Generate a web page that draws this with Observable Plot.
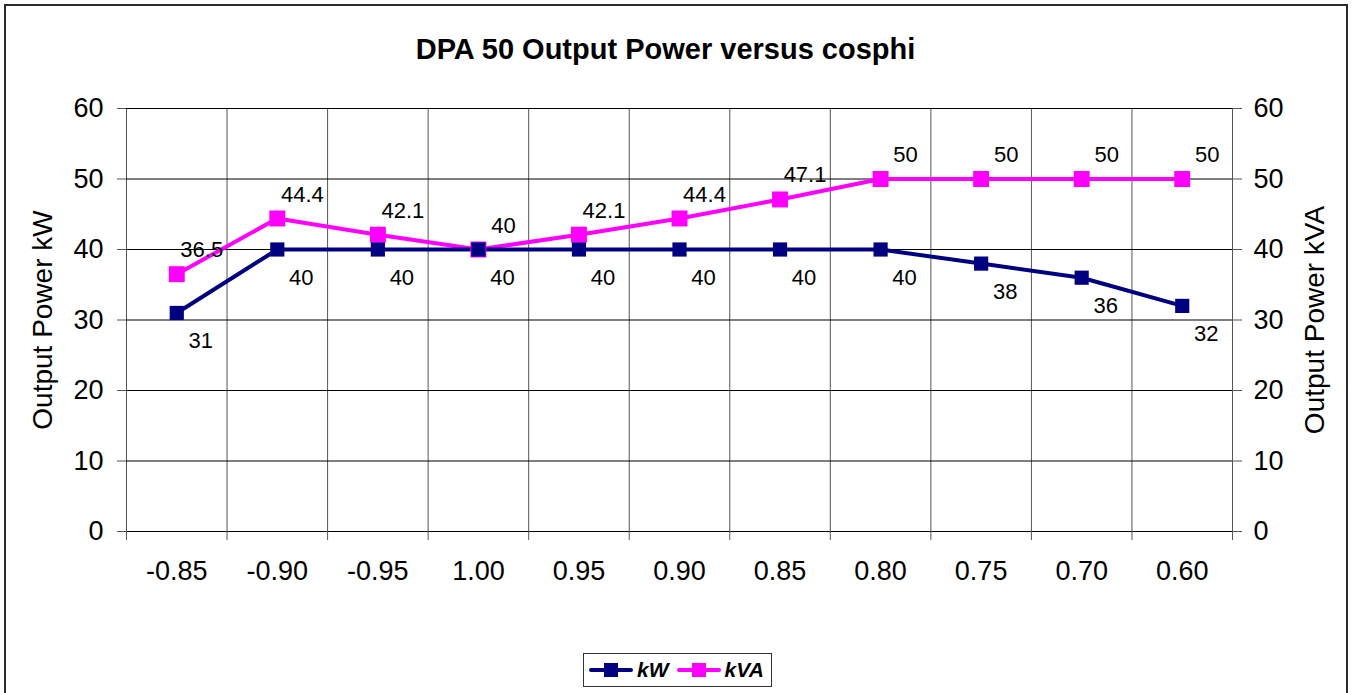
<!DOCTYPE html>
<html>
<head>
<meta charset="utf-8">
<script src="https://cdn.jsdelivr.net/npm/d3@7"></script>
<script src="https://cdn.jsdelivr.net/npm/@observablehq/plot@0.6"></script>
<style>
  html, body { margin: 0; padding: 0; background: #fff; overflow: hidden; }
  #wrap { position: relative; width: 1356px; height: 693px; overflow: hidden; font-family: "Liberation Sans", Arial, sans-serif; }
  #frame { position: absolute; left: 4px; top: 4px; width: 1344px; height: 720px; border: 2px solid #2a2a2a; box-sizing: border-box; pointer-events: none; }
  #chart { position: absolute; left: 0; top: 0; }
  #legend { position: absolute; left: 583px; top: 653px; width: 189px; height: 34px; border: 1.5px solid #333; box-sizing: border-box; background: #fff;
            display: flex; align-items: center; gap: 0; padding-left: 5px; }
  .item { display: flex; align-items: center; font-weight: bold; font-style: italic; font-size: 21px; color: #000; margin-right: 8px; }
  .item svg { margin-right: 4px; }
</style>
</head>
<body>
<div id="wrap">
  <div id="chart"></div>
  <div id="frame"></div>
  <div id="legend"></div>
</div>
<script>
const categories = ["-0.85", "-0.90", "-0.95", "1.00", "0.95", "0.90", "0.85", "0.80", "0.75", "0.70", "0.60"];
const kW = [31, 40, 40, 40, 40, 40, 40, 40, 38, 36, 32];
const kVA = [36.5, 44.4, 42.1, 40, 42.1, 44.4, 47.1, 50, 50, 50, 50];
const yTicks = [0, 10, 20, 30, 40, 50, 60];
const seriesNames = ["kW", "kVA"];
const seriesColors = ["#000080", "#FF00FF"];
const title = "DPA 50 Output Power versus cosphi";
const yLabelLeft = "Output Power kW";
const yLabelRight = "Output Power kVA";

const rows = categories.map((c, i) => ({pos: i + 0.5, cat: c, kW: kW[i], kVA: kVA[i]}));
const bounds = d3.range(0, categories.length + 1);
const font = "Liberation Sans, Arial, sans-serif";

const chart = Plot.plot({
  width: 1356,
  height: 693,
  marginLeft: 126,
  marginRight: 124,
  marginTop: 108,
  marginBottom: 162,
  style: {fontFamily: font, background: "transparent", overflow: "visible"},
  x: {domain: [0, categories.length]},
  y: {domain: [0, 60]},
  marks: [
    Plot.ruleX(bounds, {x: d => d, stroke: "#555", strokeWidth: 1, strokeOpacity: 1}),
    Plot.ruleY(yTicks, {y: d => d, stroke: "#000", strokeWidth: 1, strokeOpacity: 1}),
    Plot.axisX(bounds, {anchor: "bottom", tickSize: 9, tickFormat: () => "", stroke: "#555", strokeOpacity: 1, label: null}),
    Plot.axisY(yTicks, {anchor: "left", tickSize: 9, tickFormat: () => "", stroke: "#555", strokeOpacity: 1, label: null}),
    Plot.axisY(yTicks, {anchor: "right", tickSize: 9, tickFormat: () => "", stroke: "#555", strokeOpacity: 1, label: null}),
    Plot.text(rows, {x: "pos", text: "cat", frameAnchor: "bottom", lineAnchor: "middle", dy: 40, fontSize: 27, fill: "#000"}),
    Plot.text(yTicks, {y: d => d, text: d => String(d), frameAnchor: "left", dx: -23, textAnchor: "end", fontSize: 27, fill: "#000"}),
    Plot.text(yTicks, {y: d => d, text: d => String(d), frameAnchor: "right", dx: 21, textAnchor: "start", fontSize: 27, fill: "#000"}),
    Plot.line(rows, {x: "pos", y: "kVA", stroke: seriesColors[1], strokeWidth: 4}),
    Plot.line(rows, {x: "pos", y: "kW", stroke: seriesColors[0], strokeWidth: 4}),
    Plot.dot(rows, {x: "pos", y: "kVA", symbol: "square", r: 9, fill: seriesColors[1], stroke: "none"}),
    Plot.dot(rows, {x: "pos", y: "kW", symbol: "square", r: 8, fill: seriesColors[0], stroke: "none"}),
    Plot.text(rows, {x: "pos", y: "kVA", text: d => String(d.kVA), dx: 25, dy: -24, fontSize: 22, fill: "#000"}),
    Plot.text(rows, {x: "pos", y: "kW", text: d => String(d.kW), dx: 24, dy: 28, fontSize: 22, fill: "#000"}),
    Plot.text([title], {text: d => d, frameAnchor: "top", lineAnchor: "middle", dx: -14, dy: -59, fontSize: 29, fontWeight: "bold", fill: "#000"}),
    Plot.text([yLabelLeft], {text: d => d, frameAnchor: "left", textAnchor: "middle", lineAnchor: "middle", dx: -83, rotate: -90, fontSize: 28, fill: "#000"}),
    Plot.text([yLabelRight], {text: d => d, frameAnchor: "right", textAnchor: "middle", lineAnchor: "middle", dx: 83, rotate: -90, fontSize: 28, fill: "#000"})
  ]
});
document.getElementById("chart").appendChild(chart);

const legend = document.getElementById("legend");
seriesNames.forEach((name, i) => {
  const item = document.createElement("div");
  item.className = "item";
  item.innerHTML = `<svg width="44" height="16"><line x1="2" y1="8" x2="42" y2="8" stroke="${seriesColors[i]}" stroke-width="4" stroke-linecap="round"/><rect x="15" y="1" width="14" height="14" fill="${seriesColors[i]}"/></svg><span>${name}</span>`;
  legend.appendChild(item);
});
</script>
</body>
</html>
